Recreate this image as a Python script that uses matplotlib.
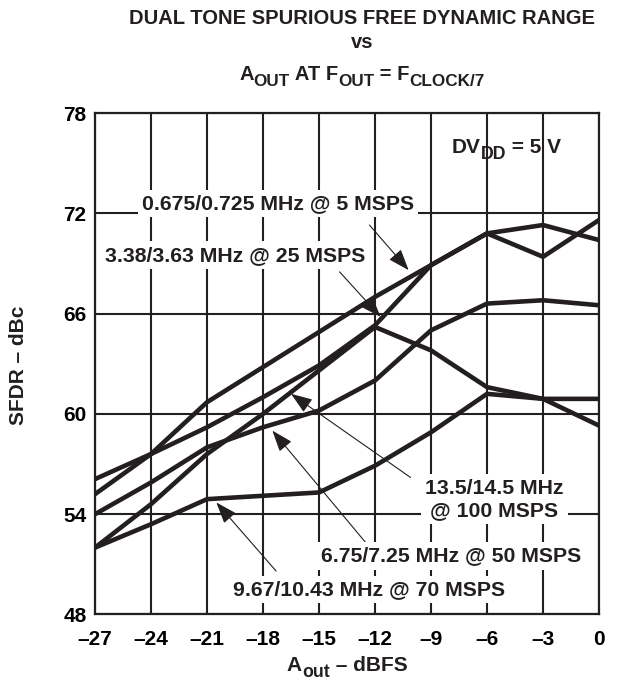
import matplotlib
matplotlib.use("Agg")
import matplotlib.pyplot as plt
from matplotlib.transforms import IdentityTransform

# SFDR (dBc) against output amplitude (dBFS), one curve per tone pair / clock rate
aout_dbfs = [-27, -24, -21, -18, -15, -12, -9, -6, -3, 0]
sfdr_5msps = [55.2, 57.6, 60.7, 62.8, 64.9, 67.0, 68.9, 70.8, 71.3, 70.4]
sfdr_25msps = [56.1, 57.6, 59.2, 61.0, 62.9, 65.3, 68.9, 70.8, 69.4, 71.6]
sfdr_50msps = [54.0, 55.9, 58.0, 59.2, 60.2, 62.0, 65.0, 66.6, 66.8, 66.5]
sfdr_70msps = [52.0, 53.4, 54.9, 55.1, 55.3, 56.9, 58.9, 61.2, 60.9, 60.9]
sfdr_100msps = [52.0, 54.6, 57.6, 60.0, 62.6, 65.2, 63.8, 61.6, 60.9, 59.3]

y_ticks = [48, 54, 60, 66, 72, 78]

# label text, text position, arrow tip (data coords), arrow tail
labels = [
    ("0.675/0.725 MHz @ 5 MSPS", (-17.2, 72.6), (-10.2, 68.6), (-12.3, 71.3)),
    ("3.38/3.63 MHz @ 25 MSPS", (-19.5, 69.5), (-11.7, 65.8), (-13.9, 68.5)),
    ("13.5/14.5 MHz\n@ 100 MSPS", (-5.6, 54.9), (-16.5, 61.2), (-10.1, 56.2)),
    ("6.75/7.25 MHz @ 50 MSPS", (-7.9, 51.5), (-17.5, 59.0), (-12.5, 52.3)),
    ("9.67/10.43 MHz @ 70 MSPS", (-12.3, 49.5), (-20.5, 54.7), (-17.3, 50.6)),
]

INK = "#231f20"

plt.rcParams["font.family"] = ["Liberation Sans", "DejaVu Sans"]
plt.rcParams["font.weight"] = "bold"


def rich_text(fig, x, y, runs, size, ha="center"):
    """Write text with large, dropped subscripts; x, y are pixels (baseline)."""
    renderer = fig.canvas.get_renderer()
    items = []
    for s, sub in runs:
        fs = size * 0.85 if sub else size
        t = fig.text(0, 0, s, fontsize=fs, fontweight="bold", color=INK,
                     ha="left", va="baseline", transform=IdentityTransform())
        items.append((t, t.get_window_extent(renderer).width, sub))
    total = sum(w for _, w, _ in items)
    cx = x - total / 2 if ha == "center" else x
    drop = size * fig.dpi / 72 * 0.3
    for t, w, sub in items:
        t.set_position((cx, y - drop if sub else y))
        cx += w


fig = plt.figure(figsize=(6.26, 6.81), dpi=100)
ax = fig.add_axes([0.1518, 0.0977, 0.8051, 0.7363])

for series in [sfdr_5msps, sfdr_25msps, sfdr_50msps, sfdr_70msps, sfdr_100msps]:
    ax.plot(aout_dbfs, series, color=INK, linewidth=3.3, solid_joinstyle="miter", zorder=3)

ax.set_xlim(-27, 0)
ax.set_ylim(48, 78)
ax.set_xticks(aout_dbfs)
ax.set_xticklabels(["\u2013" + str(-v) if v < 0 else str(v) for v in aout_dbfs])
ax.set_yticks(y_ticks)
ax.grid(True, color=INK, linewidth=1.5)
ax.set_axisbelow(True)
ax.tick_params(length=0, labelsize=15)
ax.tick_params(axis="x", pad=11)
ax.tick_params(axis="y", pad=6)
for spine in ax.spines.values():
    spine.set_linewidth(1.6)
    spine.set_color(INK)

for text, pos, tip, tail in labels:
    ax.annotate("", xy=tip, xytext=tail,
                arrowprops=dict(arrowstyle="-|>,head_length=0.6,head_width=0.22",
                                mutation_scale=22, lw=0.8, color=INK,
                                shrinkA=0, shrinkB=0),
                zorder=5)
    ax.text(pos[0], pos[1], text, ha="center", va="center", fontsize=15.3,
            fontweight="bold", color=INK, linespacing=1.2, zorder=6,
            bbox=dict(facecolor="white", edgecolor="none", pad=3))

fig.canvas.draw()
H = fig.bbox.height

# supply voltage note inside the plot
rich_text(fig, 452, H - 153, [("DV", False), ("DD", True), (" = 5 V", False)], 15, ha="left")

# axis labels
rich_text(fig, 347, H - 671, [("A", False), ("out", True), (" \u2013 dBFS", False)], 15)
fig.text(19 / 626, 1 - 365 / 681, "SFDR \u2013 dBc", rotation=90, ha="center", va="center",
         fontsize=15, fontweight="bold", color=INK)

# title
fig.text(0.578, 1 - 18 / 681, "DUAL TONE SPURIOUS FREE DYNAMIC RANGE", ha="center",
         va="center", fontsize=14.5, fontweight="bold", color=INK)
fig.text(0.578, 1 - 43 / 681, "vs", ha="center", va="center", fontsize=14.5,
         fontweight="bold", color=INK)
rich_text(fig, 362, H - 80, [("A", False), ("OUT", True), (" AT F", False), ("OUT", True),
                             (" = F", False), ("CLOCK/7", True)], 14.5)

fig.savefig("out.png", dpi=100, facecolor="white")
